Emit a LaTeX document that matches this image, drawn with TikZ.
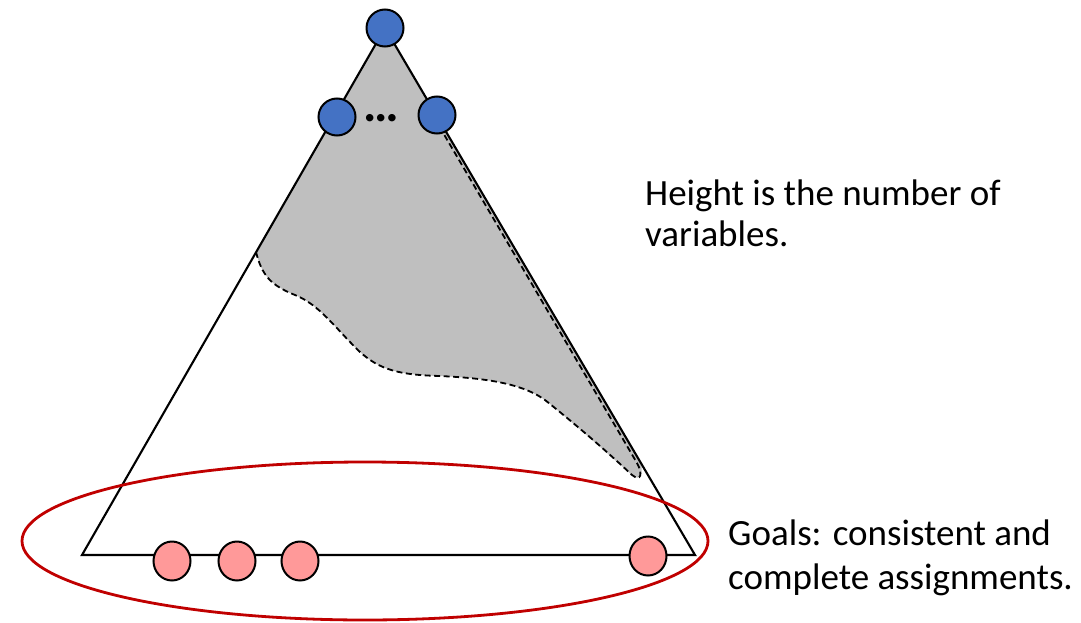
\documentclass[tikz,border=0pt]{standalone}
\usepackage{fontspec}
\setmainfont{Carlito}
\usetikzlibrary{shapes.geometric}
\begin{document}
\begin{tikzpicture}[x=1pt,y=-1pt,
  blue node/.style={circle,draw=black,line width=2pt,fill=bluefill,minimum size=37pt,inner sep=0pt},
  pink node/.style={ellipse,draw=black,line width=2pt,fill=pinkfill,minimum width=37pt,minimum height=39pt,inner sep=0pt},
  label text/.style={anchor=base west,inner sep=0pt,font=\fontsize{37}{42}\selectfont}]
\definecolor{bluefill}{HTML}{4472C4}
\definecolor{pinkfill}{HTML}{FF9999}
\definecolor{grayfill}{HTML}{BFBFBF}
\definecolor{redline}{HTML}{C00000}
\useasboundingbox (0,0) rectangle (1081,623);
% triangle corners
\coordinate (apex) at (385,28);
\coordinate (bl) at (82,555);
\coordinate (br) at (695,555);
% explored region
\fill[grayfill] (256,252) -- (apex) -- (641,463)
  .. controls (643,474) and (641,482) .. (632,475)
  .. controls (600,447) and (570,420) .. (545,400)
  .. controls (520,382) and (480,378) .. (440,376)
  .. controls (400,375) and (380,370) .. (360,352)
  .. controls (335,328) and (320,305) .. (295,295)
  .. controls (270,285) and (262,275) .. (256,252) -- cycle;
\draw[dash pattern=on 6pt off 3.5pt,line width=1.8pt] (256,252)
  .. controls (262,275) and (270,285) .. (295,295)
  .. controls (320,305) and (335,328) .. (360,352)
  .. controls (380,370) and (400,375) .. (440,376)
  .. controls (480,378) and (520,382) .. (545,400)
  .. controls (570,420) and (600,445) .. (632,475)
  .. controls (641,482) and (643,474) .. (637,463)
  -- (442,131);
% triangle
\draw[line width=2.1pt,line join=miter] (apex) -- (bl) -- (br) -- cycle;
% goal ellipse
\draw[redline,line width=2.8pt] (365,541) ellipse [x radius=343, y radius=79];
% nodes
\node[blue node] (root) at (385,28) {};
\node[blue node] (c1) at (337,117) {};
\node[blue node] (c2) at (437,115) {};
\node[font=\bfseries\fontsize{50}{50}\selectfont,inner sep=0pt,anchor=base] (dots) at (381,122) {…};
\node[pink node] (g1) at (172,561) {};
\node[pink node] (g2) at (237,561) {};
\node[pink node] (g3) at (300,561) {};
\node[pink node] (g4) at (648,556) {};
% labels
\node[label text] (h1) at (645,205) {Height is the number of};
\node[label text] (h2) at (645,246) {variables.};
\node[label text] (g1t) at (728,545) {Goals: consistent and};
\node[label text] (g2t) at (728,589) {complete assignments.};
\end{tikzpicture}
\end{document}
